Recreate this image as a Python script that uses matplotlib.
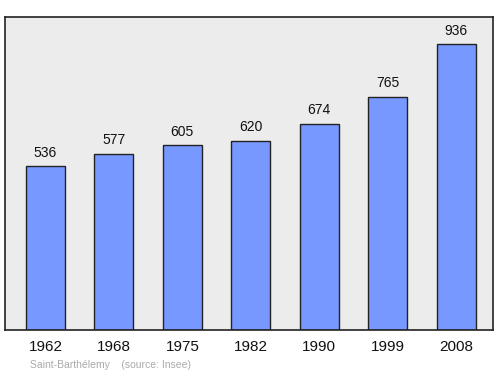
import matplotlib
matplotlib.use("Agg")
import matplotlib.pyplot as plt

years = ["1962", "1968", "1975", "1982", "1990", "1999", "2008"]
population = [536, 577, 605, 620, 674, 765, 936]

plt.rcParams['font.family'] = ['Liberation Sans', 'DejaVu Sans']

fig = plt.figure(figsize=(5, 3.74), dpi=100)
W, H = 500, 374
ax = fig.add_axes([5 / W, 1 - 330 / H, 488 / W, 313 / H])
ax.set_facecolor('#ececec')
x = list(range(len(years)))
ax.bar(x, population, width=0.57, color='#7799ff', edgecolor='#222222', linewidth=1, zorder=2)
for xi, v in zip(x, population):
    ax.annotate(str(v), (xi, v), xytext=(0, 10), textcoords='offset points',
                ha='center', va='center', fontsize=10, color='#111111')
ax.set_xlim(-0.592, 6.54)
ax.set_ylim(0, 1026)
ax.set_xticks(x)
ax.set_xticklabels(years, fontsize=11, color='#111111')
ax.tick_params(axis='x', length=0, pad=7.5)
ax.set_yticks([])
for s in ax.spines.values():
    s.set_color('#222222')
    s.set_linewidth(1.2)
fig.text(30 / W, 1 - 365 / H, "Saint-Barthélemy    (source: Insee)", fontsize=7.5,
         color='#aaaaaa', ha='left', va='center')
fig.savefig("out.png", dpi=100)
